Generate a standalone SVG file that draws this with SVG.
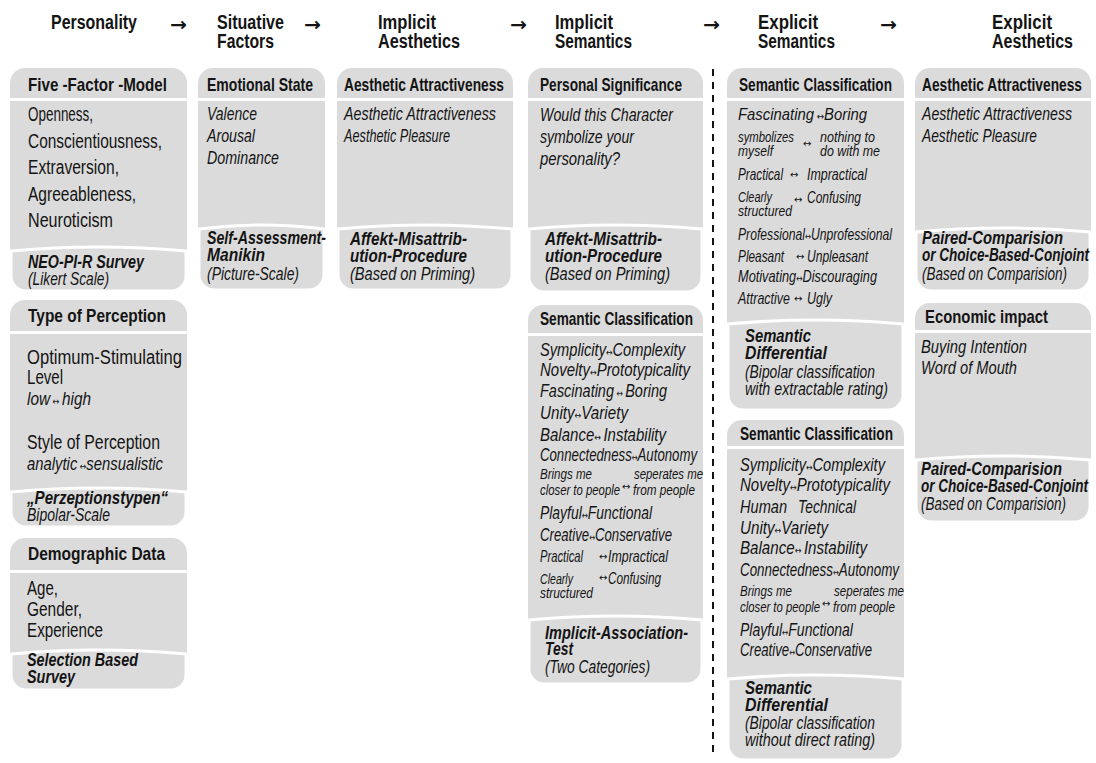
<svg xmlns="http://www.w3.org/2000/svg" width="1096" height="763" viewBox="0 0 1096 763">
<style>
text{font-family:"Liberation Sans Narrow","Liberation Sans",Arial,sans-serif;fill:#141414}
.t{font-size:20px;font-weight:bold}
.h{font-size:19px;font-weight:bold}
.r{font-size:20px}
.i{font-size:19px;font-style:italic}
.m{font-size:17px;font-style:italic}
.s{font-size:15px;font-style:italic}
.fb{font-size:18px;font-weight:bold;font-style:italic}
.fi{font-size:18px;font-style:italic}
.ar{font-family:"DejaVu Sans",sans-serif;font-size:10px;font-style:normal;font-weight:normal}
.e{text-anchor:end}
.g{fill:#dbdbdb}
.ft{fill:#dbdbdb;stroke:#fff;stroke-width:3}
.ah{font-family:"DejaVu Sans",sans-serif;font-size:19px;font-weight:bold}
</style>
<rect width="1096" height="763" fill="#fff"/>

<g id="titles">
<text class="t" x="51" y="29" textLength="86" lengthAdjust="spacingAndGlyphs">Personality</text>
<text class="t" x="217" y="29" textLength="67" lengthAdjust="spacingAndGlyphs">Situative</text>
<text class="t" x="217" y="48" textLength="57" lengthAdjust="spacingAndGlyphs">Factors</text>
<text class="t" x="378" y="29" textLength="58" lengthAdjust="spacingAndGlyphs">Implicit</text>
<text class="t" x="378" y="48" textLength="82" lengthAdjust="spacingAndGlyphs">Aesthetics</text>
<text class="t" x="555" y="29" textLength="58" lengthAdjust="spacingAndGlyphs">Implicit</text>
<text class="t" x="555" y="48" textLength="77" lengthAdjust="spacingAndGlyphs">Semantics</text>
<text class="t" x="758" y="29" textLength="60" lengthAdjust="spacingAndGlyphs">Explicit</text>
<text class="t" x="758" y="48" textLength="77" lengthAdjust="spacingAndGlyphs">Semantics</text>
<text class="t" x="992" y="29" textLength="60" lengthAdjust="spacingAndGlyphs">Explicit</text>
<text class="t" x="992" y="48" textLength="81" lengthAdjust="spacingAndGlyphs">Aesthetics</text>
</g>

<g id="connectors">
<text class="ah" x="170" y="31" textLength="17" lengthAdjust="spacingAndGlyphs">→</text>
<text class="ah" x="304" y="31" textLength="17" lengthAdjust="spacingAndGlyphs">→</text>
<text class="ah" x="510" y="31" textLength="17" lengthAdjust="spacingAndGlyphs">→</text>
<text class="ah" x="703" y="31" textLength="17" lengthAdjust="spacingAndGlyphs">→</text>
<text class="ah" x="880" y="31" textLength="17" lengthAdjust="spacingAndGlyphs">→</text>
<line x1="713" y1="69" x2="713" y2="757" stroke="#141414" stroke-width="2" stroke-dasharray="7 6"/>
</g>

<!-- Column 1 -->
<g id="five-factor-model">
<path class="g" d="M10 98V83A15 15 0 0 1 25 68H172A15 15 0 0 1 187 83V98Z"/>
<rect class="g" x="10" y="101" width="177" height="154"/>
<path class="ft" d="M11 251Q98 243 186 251V276A15 15 0 0 1 171 291H26A15 15 0 0 1 11 276Z"/>
<text class="h" x="28" y="91" textLength="139" lengthAdjust="spacingAndGlyphs">Five -Factor -Model</text>
<text class="r" x="28" y="121" textLength="65" lengthAdjust="spacingAndGlyphs">Openness,</text>
<text class="r" x="28" y="148" textLength="134" lengthAdjust="spacingAndGlyphs">Conscientiousness,</text>
<text class="r" x="28" y="174" textLength="91" lengthAdjust="spacingAndGlyphs">Extraversion,</text>
<text class="r" x="28" y="201" textLength="108" lengthAdjust="spacingAndGlyphs">Agreeableness,</text>
<text class="r" x="28" y="227" textLength="85" lengthAdjust="spacingAndGlyphs">Neuroticism</text>
<text class="fb" x="28" y="268" textLength="116" lengthAdjust="spacingAndGlyphs">NEO-PI-R Survey</text>
<text class="fi" x="28" y="285" textLength="81" lengthAdjust="spacingAndGlyphs">(Likert Scale)</text>
</g>

<g id="type-of-perception">
<path class="g" d="M10 331V315A15 15 0 0 1 25 300H172A15 15 0 0 1 187 315V331Z"/>
<rect class="g" x="10" y="334" width="177" height="162"/>
<path class="ft" d="M11 492Q98 484 186 492V512A15 15 0 0 1 171 527H26A15 15 0 0 1 11 512Z"/>
<text class="h" x="28" y="322" textLength="138" lengthAdjust="spacingAndGlyphs">Type of Perception</text>
<text class="r" x="27" y="364" textLength="155" lengthAdjust="spacingAndGlyphs">Optimum-Stimulating</text>
<text class="r" x="27" y="384" textLength="36" lengthAdjust="spacingAndGlyphs">Level</text>
<text class="i" x="27" y="405" textLength="64" lengthAdjust="spacingAndGlyphs">low<tspan class="ar"> ↔ </tspan>high</text>
<text class="r" x="27" y="449" textLength="133" lengthAdjust="spacingAndGlyphs">Style of Perception</text>
<text class="i" x="27" y="470" textLength="136" lengthAdjust="spacingAndGlyphs">analytic<tspan class="ar"> ↔</tspan>sensualistic</text>
<text class="fb" x="27" y="504" textLength="141" lengthAdjust="spacingAndGlyphs">„Perzeptionstypen“</text>
<text class="fi" x="27" y="521" textLength="83" lengthAdjust="spacingAndGlyphs">Bipolar-Scale</text>
</g>

<g id="demographic-data">
<path class="g" d="M10 570V553A15 15 0 0 1 25 538H172A15 15 0 0 1 187 553V570Z"/>
<rect class="g" x="10" y="573" width="177" height="85"/>
<path class="ft" d="M11 654Q98 646 186 654V675A15 15 0 0 1 171 690H26A15 15 0 0 1 11 675Z"/>
<text class="h" x="28" y="560" textLength="137" lengthAdjust="spacingAndGlyphs">Demographic Data</text>
<text class="r" x="27" y="595" textLength="31" lengthAdjust="spacingAndGlyphs">Age,</text>
<text class="r" x="27" y="616" textLength="55" lengthAdjust="spacingAndGlyphs">Gender,</text>
<text class="r" x="27" y="637" textLength="76" lengthAdjust="spacingAndGlyphs">Experience</text>
<text class="fb" x="27" y="666" textLength="111" lengthAdjust="spacingAndGlyphs">Selection Based</text>
<text class="fb" x="27" y="683" textLength="48" lengthAdjust="spacingAndGlyphs">Survey</text>
</g>

<!-- Column 2 -->
<g id="emotional-state">
<path class="g" d="M198 98V83A15 15 0 0 1 213 68H310A15 15 0 0 1 325 83V98Z"/>
<rect class="g" x="198" y="101" width="127" height="132"/>
<path class="ft" d="M199 229Q261 221 324 229V275A15 15 0 0 1 309 290H214A15 15 0 0 1 199 275Z"/>
<text class="h" x="207" y="91" textLength="106" lengthAdjust="spacingAndGlyphs">Emotional State</text>
<text class="i" x="207" y="120" textLength="50" lengthAdjust="spacingAndGlyphs">Valence</text>
<text class="i" x="207" y="142" textLength="48" lengthAdjust="spacingAndGlyphs">Arousal</text>
<text class="i" x="207" y="164" textLength="72" lengthAdjust="spacingAndGlyphs">Dominance</text>
<text class="fb" x="207" y="244" textLength="119" lengthAdjust="spacingAndGlyphs">Self-Assessment-</text>
<text class="fb" x="207" y="261" textLength="58" lengthAdjust="spacingAndGlyphs">Manikin</text>
<text class="fi" x="207" y="280" textLength="92" lengthAdjust="spacingAndGlyphs">(Picture-Scale)</text>
</g>

<!-- Column 3 -->
<g id="implicit-aesthetic-attractiveness">
<path class="g" d="M337 98V83A15 15 0 0 1 352 68H498A15 15 0 0 1 513 83V98Z"/>
<rect class="g" x="337" y="101" width="176" height="132"/>
<path class="ft" d="M338 229Q425 221 512 229V275A15 15 0 0 1 497 290H353A15 15 0 0 1 338 275Z"/>
<text class="h" x="344" y="91" textLength="160" lengthAdjust="spacingAndGlyphs">Aesthetic Attractiveness</text>
<text class="i" x="344" y="120" textLength="152" lengthAdjust="spacingAndGlyphs">Aesthetic Attractiveness</text>
<text class="i" x="344" y="142" textLength="106" lengthAdjust="spacingAndGlyphs">Aesthetic Pleasure</text>
<text class="fb" x="350" y="245" textLength="117" lengthAdjust="spacingAndGlyphs">Affekt-Misattrib-</text>
<text class="fb" x="350" y="262" textLength="117" lengthAdjust="spacingAndGlyphs">ution-Procedure</text>
<text class="fi" x="350" y="280" textLength="125" lengthAdjust="spacingAndGlyphs">(Based on Priming)</text>
</g>

<!-- Column 4 -->
<g id="personal-significance">
<path class="g" d="M528 98V83A15 15 0 0 1 543 68H688A15 15 0 0 1 703 83V98Z"/>
<rect class="g" x="528" y="101" width="175" height="132"/>
<path class="ft" d="M529 229Q615 221 702 229V277A15 15 0 0 1 687 292H544A15 15 0 0 1 529 277Z"/>
<text class="h" x="540" y="91" textLength="142" lengthAdjust="spacingAndGlyphs">Personal Significance</text>
<text class="i" x="540" y="121" textLength="133" lengthAdjust="spacingAndGlyphs">Would this Character</text>
<text class="i" x="540" y="143" textLength="94" lengthAdjust="spacingAndGlyphs">symbolize your</text>
<text class="i" x="540" y="165" textLength="80" lengthAdjust="spacingAndGlyphs">personality?</text>
<text class="fb" x="545" y="245" textLength="117" lengthAdjust="spacingAndGlyphs">Affekt-Misattrib-</text>
<text class="fb" x="545" y="262" textLength="117" lengthAdjust="spacingAndGlyphs">ution-Procedure</text>
<text class="fi" x="545" y="280" textLength="125" lengthAdjust="spacingAndGlyphs">(Based on Priming)</text>
</g>

<g id="implicit-semantic-classification">
<path class="g" d="M528 333V320A15 15 0 0 1 543 305H688A15 15 0 0 1 703 320V333Z"/>
<rect class="g" x="528" y="336" width="175" height="288"/>
<path class="ft" d="M529 620Q615 612 702 620V669A15 15 0 0 1 687 684H544A15 15 0 0 1 529 669Z"/>
<text class="h" x="540" y="325" textLength="153" lengthAdjust="spacingAndGlyphs">Semantic Classification</text>
<text class="i" x="540" y="356" textLength="145" lengthAdjust="spacingAndGlyphs">Symplicity<tspan class="ar">↔</tspan>Complexity</text>
<text class="i" x="540" y="376" textLength="150" lengthAdjust="spacingAndGlyphs">Novelty<tspan class="ar">↔</tspan>Prototypicality</text>
<text class="i" x="540" y="397" textLength="127" lengthAdjust="spacingAndGlyphs">Fascinating<tspan class="ar"> ↔ </tspan>Boring</text>
<text class="i" x="540" y="419" textLength="88" lengthAdjust="spacingAndGlyphs">Unity<tspan class="ar">↔</tspan>Variety</text>
<text class="i" x="540" y="441" textLength="126" lengthAdjust="spacingAndGlyphs">Balance<tspan class="ar">↔ </tspan>Instability</text>
<text class="i" x="540" y="461" textLength="157" lengthAdjust="spacingAndGlyphs">Connectedness<tspan class="ar">↔</tspan>Autonomy</text>
<text class="s" x="540" y="479" textLength="52" lengthAdjust="spacingAndGlyphs">Brings me</text>
<text class="s" x="540" y="495" textLength="80" lengthAdjust="spacingAndGlyphs">closer to people</text>
<text class="ar" x="622" y="490">↔</text>
<text class="s" x="634" y="479" textLength="69" lengthAdjust="spacingAndGlyphs">seperates me</text>
<text class="s" x="633" y="495" textLength="62" lengthAdjust="spacingAndGlyphs">from people</text>
<text class="i" x="540" y="519" textLength="112" lengthAdjust="spacingAndGlyphs">Playful<tspan class="ar">↔</tspan>Functional</text>
<text class="i" x="540" y="541" textLength="132" lengthAdjust="spacingAndGlyphs">Creative<tspan class="ar">↔</tspan>Conservative</text>
<text class="m" x="540" y="562" textLength="43" lengthAdjust="spacingAndGlyphs">Practical</text>
<text class="ar" x="599" y="560">↔</text>
<text class="m" x="608" y="562" textLength="60" lengthAdjust="spacingAndGlyphs">Impractical</text>
<text class="s" x="540" y="584" textLength="33" lengthAdjust="spacingAndGlyphs">Clearly</text>
<text class="s" x="540" y="598" textLength="53" lengthAdjust="spacingAndGlyphs">structured</text>
<text class="ar" x="599" y="581">↔</text>
<text class="m" x="608" y="584" textLength="53" lengthAdjust="spacingAndGlyphs">Confusing</text>
<text class="fb" x="545" y="639" textLength="143" lengthAdjust="spacingAndGlyphs">Implicit-Association-</text>
<text class="fb" x="545" y="655" textLength="28" lengthAdjust="spacingAndGlyphs">Test</text>
<text class="fi" x="545" y="673" textLength="105" lengthAdjust="spacingAndGlyphs">(Two Categories)</text>
</g>

<!-- Column 5 -->
<g id="explicit-semantic-classification-1">
<path class="g" d="M727 98V83A15 15 0 0 1 742 68H889A15 15 0 0 1 904 83V98Z"/>
<rect class="g" x="727" y="101" width="177" height="227"/>
<path class="ft" d="M728 324Q815 316 903 324V395A15 15 0 0 1 888 410H743A15 15 0 0 1 728 395Z"/>
<text class="h" x="739" y="91" textLength="153" lengthAdjust="spacingAndGlyphs">Semantic Classification</text>
<text class="m" x="738" y="120" textLength="129" lengthAdjust="spacingAndGlyphs">Fascinating<tspan class="ar"> ↔</tspan>Boring</text>
<text class="s" x="738" y="142" textLength="56" lengthAdjust="spacingAndGlyphs">symbolizes</text>
<text class="s" x="738" y="156" textLength="35" lengthAdjust="spacingAndGlyphs">myself</text>
<text class="ar" x="803" y="147">↔</text>
<text class="s" x="820" y="142" textLength="55" lengthAdjust="spacingAndGlyphs">nothing to</text>
<text class="s" x="820" y="156" textLength="60" lengthAdjust="spacingAndGlyphs">do with me</text>
<text class="m" x="738" y="180" textLength="45" lengthAdjust="spacingAndGlyphs">Practical</text>
<text class="ar" x="790" y="178">↔</text>
<text class="m" x="807" y="180" textLength="60" lengthAdjust="spacingAndGlyphs">Impractical</text>
<text class="s" x="738" y="202" textLength="34" lengthAdjust="spacingAndGlyphs">Clearly</text>
<text class="s" x="738" y="216" textLength="54" lengthAdjust="spacingAndGlyphs">structured</text>
<text class="ar" x="794" y="203">↔</text>
<text class="m" x="807" y="203" textLength="54" lengthAdjust="spacingAndGlyphs">Confusing</text>
<text class="m" x="738" y="240" textLength="154" lengthAdjust="spacingAndGlyphs">Professional<tspan class="ar">↔</tspan>Unprofessional</text>
<text class="m" x="738" y="262" textLength="46" lengthAdjust="spacingAndGlyphs">Pleasant</text>
<text class="ar" x="796" y="260">↔</text>
<text class="m" x="807" y="262" textLength="61" lengthAdjust="spacingAndGlyphs">Unpleasant</text>
<text class="m" x="738" y="282" textLength="139" lengthAdjust="spacingAndGlyphs">Motivating<tspan class="ar">↔</tspan>Discouraging</text>
<text class="m" x="738" y="304" textLength="52" lengthAdjust="spacingAndGlyphs">Attractive</text>
<text class="ar" x="794" y="302">↔</text>
<text class="m" x="807" y="304" textLength="25" lengthAdjust="spacingAndGlyphs">Ugly</text>
<text class="fb" x="745" y="342" textLength="66" lengthAdjust="spacingAndGlyphs">Semantic</text>
<text class="fb" x="745" y="359" textLength="82" lengthAdjust="spacingAndGlyphs">Differential</text>
<text class="fi" x="745" y="378" textLength="130" lengthAdjust="spacingAndGlyphs">(Bipolar classification</text>
<text class="fi" x="745" y="395" textLength="143" lengthAdjust="spacingAndGlyphs">with extractable rating)</text>
</g>

<g id="explicit-semantic-classification-2">
<path class="g" d="M727 446V435A15 15 0 0 1 742 420H889A15 15 0 0 1 904 435V446Z"/>
<rect class="g" x="727" y="449" width="177" height="234"/>
<path class="ft" d="M728 679Q815 671 903 679V745A15 15 0 0 1 888 760H743A15 15 0 0 1 728 745Z"/>
<text class="h" x="740" y="440" textLength="153" lengthAdjust="spacingAndGlyphs">Semantic Classification</text>
<text class="i" x="740" y="471" textLength="145" lengthAdjust="spacingAndGlyphs">Symplicity<tspan class="ar">↔</tspan>Complexity</text>
<text class="i" x="740" y="491" textLength="150" lengthAdjust="spacingAndGlyphs">Novelty<tspan class="ar">↔</tspan>Prototypicality</text>
<text class="i" x="740" y="513" textLength="47" lengthAdjust="spacingAndGlyphs">Human</text>
<text class="i" x="798" y="513" textLength="58" lengthAdjust="spacingAndGlyphs">Technical</text>
<text class="i" x="740" y="534" textLength="88" lengthAdjust="spacingAndGlyphs">Unity<tspan class="ar">↔</tspan>Variety</text>
<text class="i" x="740" y="554" textLength="127" lengthAdjust="spacingAndGlyphs">Balance<tspan class="ar">↔ </tspan>Instability</text>
<text class="i" x="740" y="576" textLength="159" lengthAdjust="spacingAndGlyphs">Connectedness<tspan class="ar">↔</tspan>Autonomy</text>
<text class="s" x="740" y="596" textLength="52" lengthAdjust="spacingAndGlyphs">Brings me</text>
<text class="s" x="740" y="612" textLength="80" lengthAdjust="spacingAndGlyphs">closer to people</text>
<text class="ar" x="822" y="607">↔</text>
<text class="s" x="834" y="596" textLength="70" lengthAdjust="spacingAndGlyphs">seperates me</text>
<text class="s" x="833" y="612" textLength="62" lengthAdjust="spacingAndGlyphs">from people</text>
<text class="i" x="740" y="636" textLength="113" lengthAdjust="spacingAndGlyphs">Playful<tspan class="ar">↔</tspan>Functional</text>
<text class="i" x="740" y="656" textLength="132" lengthAdjust="spacingAndGlyphs">Creative<tspan class="ar">↔</tspan>Conservative</text>
<text class="fb" x="745" y="694" textLength="67" lengthAdjust="spacingAndGlyphs">Semantic</text>
<text class="fb" x="745" y="711" textLength="83" lengthAdjust="spacingAndGlyphs">Differential</text>
<text class="fi" x="745" y="729" textLength="130" lengthAdjust="spacingAndGlyphs">(Bipolar classification</text>
<text class="fi" x="745" y="746" textLength="130" lengthAdjust="spacingAndGlyphs">without direct rating)</text>
</g>

<!-- Column 6 -->
<g id="explicit-aesthetic-attractiveness">
<path class="g" d="M915 98V83A15 15 0 0 1 930 68H1076A15 15 0 0 1 1091 83V98Z"/>
<rect class="g" x="915" y="101" width="176" height="135"/>
<path class="ft" d="M916 232Q1003 224 1090 232V276A15 15 0 0 1 1075 291H931A15 15 0 0 1 916 276Z"/>
<text class="h e" x="1082" y="91" textLength="160" lengthAdjust="spacingAndGlyphs">Aesthetic Attractiveness</text>
<text class="i e" x="1072" y="120" textLength="150" lengthAdjust="spacingAndGlyphs">Aesthetic Attractiveness</text>
<text class="i" x="922" y="142" textLength="115" lengthAdjust="spacingAndGlyphs">Aesthetic Pleasure</text>
<text class="fb e" x="1063" y="244" textLength="141" lengthAdjust="spacingAndGlyphs">Paired-Comparision</text>
<text class="fb e" x="1089" y="261" textLength="167" lengthAdjust="spacingAndGlyphs">or Choice-Based-Conjoint</text>
<text class="fi e" x="1067" y="280" textLength="145" lengthAdjust="spacingAndGlyphs">(Based on Comparision)</text>
</g>

<g id="economic-impact">
<path class="g" d="M915 330V318A15 15 0 0 1 930 303H1076A15 15 0 0 1 1091 318V330Z"/>
<rect class="g" x="915" y="333" width="176" height="131"/>
<path class="ft" d="M916 460Q1003 452 1090 460V507A15 15 0 0 1 1075 522H931A15 15 0 0 1 916 507Z"/>
<text class="h" x="925" y="323" textLength="123" lengthAdjust="spacingAndGlyphs">Economic impact</text>
<text class="i" x="921" y="353" textLength="106" lengthAdjust="spacingAndGlyphs">Buying Intention</text>
<text class="i" x="921" y="374" textLength="96" lengthAdjust="spacingAndGlyphs">Word of Mouth</text>
<text class="fb e" x="1062" y="475" textLength="141" lengthAdjust="spacingAndGlyphs">Paired-Comparision</text>
<text class="fb e" x="1088" y="492" textLength="167" lengthAdjust="spacingAndGlyphs">or Choice-Based-Conjoint</text>
<text class="fi e" x="1066" y="510" textLength="145" lengthAdjust="spacingAndGlyphs">(Based on Comparision)</text>
</g>
</svg>
